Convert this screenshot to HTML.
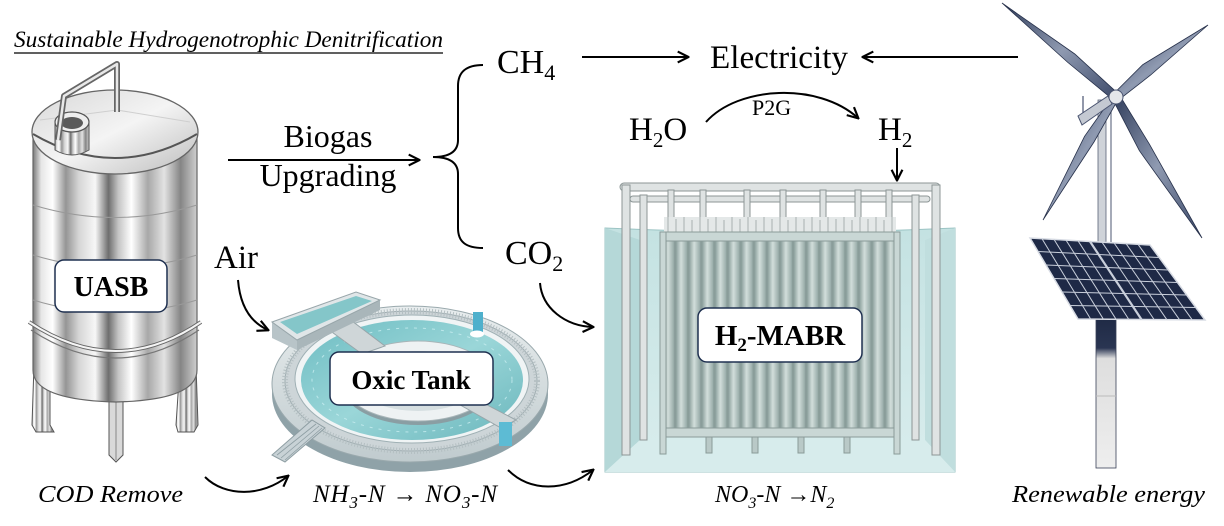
<!DOCTYPE html>
<html><head><meta charset="utf-8"><style>
html,body{margin:0;padding:0;background:#fff;}
svg{display:block;}
text{font-family:"Liberation Serif",serif;}
</style></head><body>
<svg width="1224" height="526" viewBox="0 0 1224 526" xmlns="http://www.w3.org/2000/svg">
<defs>
<marker id="ah" viewBox="0 0 12 12" refX="10.5" refY="6" markerWidth="13" markerHeight="13" orient="auto" markerUnits="userSpaceOnUse">
<path d="M1,1 L11,6 L1,11" fill="none" stroke="#000" stroke-width="2"/>
</marker>
<linearGradient id="metal" x1="0" y1="0" x2="1" y2="0">
<stop offset="0" stop-color="#7a7a7a"/><stop offset="0.05" stop-color="#e6e6e6"/><stop offset="0.12" stop-color="#ffffff"/>
<stop offset="0.2" stop-color="#959595"/><stop offset="0.28" stop-color="#d6d6d6"/><stop offset="0.38" stop-color="#f7f7f7"/>
<stop offset="0.46" stop-color="#6e6e6e"/><stop offset="0.52" stop-color="#c4c4c4"/><stop offset="0.6" stop-color="#ffffff"/>
<stop offset="0.7" stop-color="#a8a8a8"/><stop offset="0.8" stop-color="#e2e2e2"/><stop offset="0.9" stop-color="#858585"/>
<stop offset="1" stop-color="#cfcfcf"/>
</linearGradient>
<linearGradient id="lid" x1="0" y1="0" x2="1" y2="1">
<stop offset="0" stop-color="#d8d8d8"/><stop offset="0.5" stop-color="#f4f4f4"/><stop offset="1" stop-color="#bdbdbd"/>
</linearGradient>
<linearGradient id="blade" x1="0" y1="0" x2="1" y2="1">
<stop offset="0" stop-color="#2f3c5a"/><stop offset="0.5" stop-color="#8f9ab1"/><stop offset="1" stop-color="#3a4767"/>
</linearGradient>
<linearGradient id="pole" x1="0" y1="0" x2="0" y2="1">
<stop offset="0" stop-color="#1f2a45"/><stop offset="0.2" stop-color="#2a3552"/><stop offset="0.27" stop-color="#dedede"/><stop offset="1" stop-color="#eeeeee"/>
</linearGradient>
<linearGradient id="water" x1="0" y1="0" x2="0" y2="1">
<stop offset="0" stop-color="#c4e2e2"/><stop offset="1" stop-color="#d9eded"/>
</linearGradient>
<linearGradient id="fib" x1="0" y1="0" x2="1" y2="0">
<stop offset="0" stop-color="#8da19e"/><stop offset="0.45" stop-color="#d2dedb"/><stop offset="1" stop-color="#97aba8"/>
</linearGradient>
<pattern id="fibers" x="662" y="0" width="13.1" height="526" patternUnits="userSpaceOnUse">
<rect x="0" y="0" width="13.1" height="526" fill="#8a9d9a"/>
<rect x="1" y="0" width="11" height="526" fill="url(#fib)"/>
</pattern>
<linearGradient id="pool" x1="0" y1="0" x2="1" y2="1">
<stop offset="0" stop-color="#6dbcc2"/><stop offset="0.5" stop-color="#9ad6d8"/><stop offset="1" stop-color="#6ab6bc"/>
</linearGradient>
<linearGradient id="concrete" x1="0" y1="0" x2="0" y2="1">
<stop offset="0" stop-color="#e8edee"/><stop offset="1" stop-color="#c0cbce"/>
</linearGradient>
</defs>

<!-- Title -->
<text x="14" y="47" font-size="23" font-style="italic" textLength="429" lengthAdjust="spacingAndGlyphs">Sustainable Hydrogenotrophic Denitrification</text>
<line x1="14" y1="53" x2="443" y2="53" stroke="#000" stroke-width="1.2"/>

<!-- ===== UASB tank ===== -->
<g>
<path d="M34,365 L50,365 L50,425 L54,432 L36,432 L32,425 Z" fill="url(#metal)" stroke="#555" stroke-width="1"/>
<path d="M180,365 L196,365 L198,425 L194,432 L178,432 L176,425 Z" fill="url(#metal)" stroke="#555" stroke-width="1"/>
<path d="M45,375 L117,405 L188,375 Z" fill="#555"/>
<path d="M109,390 L123,390 L123,455 L116,462 L109,455 Z" fill="#d9d9d9" stroke="#555" stroke-width="1"/>
<line x1="116" y1="392" x2="116" y2="460" stroke="#888" stroke-width="1"/>
<path d="M33,135 L33,370 Q33,400 116,402 Q197,400 197,370 L197,135 Z" fill="url(#metal)" stroke="#666" stroke-width="1.2"/>
<path d="M33,205 Q115,230 197,205" fill="none" stroke="#999" stroke-width="1"/>
<path d="M33,255 Q115,280 197,255" fill="none" stroke="#999" stroke-width="1"/>
<path d="M33,300 Q115,325 197,300" fill="none" stroke="#999" stroke-width="1"/>
<path d="M29,322 Q116,380 201,322" fill="none" stroke="#666" stroke-width="4"/>
<path d="M29,322 Q116,380 201,322" fill="none" stroke="#f4f4f4" stroke-width="2"/>
<path d="M31,330 Q116,386 199,330" fill="none" stroke="#777" stroke-width="1.2"/>
<ellipse cx="115" cy="132" rx="83" ry="42" fill="url(#lid)" stroke="#666" stroke-width="1.3"/>
<path d="M33,134 Q115,182 197,134" fill="none" stroke="#555" stroke-width="2"/>
<path d="M40,120 L117,110 L190,122" fill="none" stroke="#cfcfcf" stroke-width="1"/>
<path d="M55,122 L55,150 Q72,160 89,150 L89,122 Z" fill="url(#metal)" stroke="#555" stroke-width="1"/>
<ellipse cx="72" cy="122" rx="17" ry="10" fill="#eee" stroke="#555" stroke-width="1.2"/>
<ellipse cx="72" cy="123" rx="11" ry="6" fill="#5a5a5a"/>
<path d="M117,112 L117,64 L64,96 L58,140" fill="none" stroke="#666" stroke-width="6" stroke-linejoin="round"/>
<path d="M117,112 L117,64 L64,96 L58,140" fill="none" stroke="#e8e8e8" stroke-width="2.5" stroke-linejoin="round"/>
<rect x="55" y="260" width="112" height="52" rx="9" fill="#fff" stroke="#1f3050" stroke-width="1.5"/>
<text x="111" y="296" font-size="28" font-weight="bold" text-anchor="middle">UASB</text>
</g>

<!-- Biogas upgrading -->
<text x="328" y="147" font-size="32" text-anchor="middle">Biogas</text>
<text x="328" y="186" font-size="32" text-anchor="middle">Upgrading</text>
<line x1="228" y1="160" x2="419" y2="160" stroke="#000" stroke-width="2" marker-end="url(#ah)"/>

<!-- brace -->
<path d="M483,65 C466,65 458,72 458,86 L458,140 C458,151 450,157 433,157 C450,157 458,163 458,174 L458,228 C458,242 466,248 483,248" fill="none" stroke="#000" stroke-width="2"/>

<!-- CH4, Electricity -->
<text x="497" y="73" font-size="34">CH<tspan font-size="22" dy="7">4</tspan></text>
<line x1="582" y1="57" x2="688" y2="57" stroke="#000" stroke-width="2" marker-end="url(#ah)"/>
<text x="710" y="68" font-size="33" textLength="138" lengthAdjust="spacingAndGlyphs">Electricity</text>
<line x1="1018" y1="57" x2="863" y2="57" stroke="#000" stroke-width="2" marker-end="url(#ah)"/>

<!-- H2O P2G H2 -->
<text x="629" y="140" font-size="33">H<tspan font-size="21" dy="7">2</tspan><tspan dy="-7">O</tspan></text>
<path d="M706,122 C738,86 818,82 858,118" fill="none" stroke="#000" stroke-width="2" marker-end="url(#ah)"/>
<text x="752" y="115" font-size="22">P2G</text>
<text x="878" y="140" font-size="33">H<tspan font-size="21" dy="7">2</tspan></text>
<line x1="897" y1="148" x2="897" y2="180" stroke="#000" stroke-width="2" marker-end="url(#ah)"/>

<!-- CO2 -->
<text x="505" y="264" font-size="34">CO<tspan font-size="22" dy="7">2</tspan></text>
<path d="M540,283 C542,308 565,326 593,327" fill="none" stroke="#000" stroke-width="2" marker-end="url(#ah)"/>

<!-- Air -->
<text x="214" y="268" font-size="33">Air</text>
<path d="M238,280 C240,305 250,322 268,330" fill="none" stroke="#000" stroke-width="2" marker-end="url(#ah)"/>

<!-- ===== Oxic tank ===== -->
<g>
<ellipse cx="410" cy="394" rx="138" ry="78" fill="#8fa2a8"/>
<ellipse cx="410" cy="384" rx="138" ry="78" fill="url(#concrete)" stroke="#9aa9ad" stroke-width="1"/>
<ellipse cx="411" cy="381" rx="126" ry="70" fill="#cdd5d8" stroke="#a0aeb2" stroke-width="1"/>
<ellipse cx="411" cy="381" rx="126" ry="70" fill="none" stroke="#b4bfc2" stroke-width="6" stroke-dasharray="1 2"/>
<ellipse cx="412" cy="379" rx="117" ry="64" fill="#f0f4f5" stroke="#9fb0b4" stroke-width="1"/>
<ellipse cx="412" cy="380" rx="111" ry="60" fill="url(#pool)"/>
<ellipse cx="412" cy="380" rx="100" ry="52" fill="none" stroke="#c8eef0" stroke-width="1" stroke-dasharray="3 6" opacity="0.8"/>
<ellipse cx="418" cy="385" rx="76" ry="40" fill="#8a9ea3"/>
<ellipse cx="418" cy="381" rx="76" ry="40" fill="#eef2f3" stroke="#a8b5b8" stroke-width="1"/>
<ellipse cx="418" cy="381" rx="62" ry="30" fill="#d6dfe1"/>
<!-- bridges -->
<polygon points="325,327 348,318 385,346 362,354" fill="#cfd6d8" stroke="#98a6aa" stroke-width="1"/>
<polygon points="455,402 470,396 516,420 501,428" fill="#cfd6d8" stroke="#98a6aa" stroke-width="1"/>
<!-- channel -->
<polygon points="272,322 272,338 297,350 297,340" fill="#b8c4c8"/>
<polygon points="297,340 297,350 380,310 380,300" fill="#a9b6ba"/>
<polygon points="272,322 356,292 380,300 297,340" fill="#e0e6e8" stroke="#98a6aa" stroke-width="1"/>
<polygon points="280,322 356,296 372,301 297,334" fill="#84c6c9"/>
<!-- blue pipes -->
<rect x="473" y="312" width="10" height="20" fill="#4fb0cc"/>
<ellipse cx="477" cy="334" rx="7" ry="3.5" fill="#fff"/>
<rect x="499" y="422" width="13" height="24" fill="#5dbbd4"/>
<!-- stairs -->
<polygon points="272,455 285,462 325,428 312,420" fill="#c8d2d6" stroke="#8e9ea3" stroke-width="1"/>
<path d="M277,455 L316,424 M281,458 L319,426 M285,460 L322,428" stroke="#8e9ea3" stroke-width="0.8"/>
<!-- label -->
<rect x="330" y="352" width="163" height="53" rx="9" fill="#fff" stroke="#1f3050" stroke-width="1.5"/>
<text x="411" y="389" font-size="27" font-weight="bold" text-anchor="middle">Oxic Tank</text>
</g>

<!-- bottom labels & arrows -->
<text x="38" y="502" font-size="24" font-style="italic" textLength="145" lengthAdjust="spacingAndGlyphs">COD Remove</text>
<path d="M205,477 C225,497 262,497 288,476" fill="none" stroke="#000" stroke-width="2" marker-end="url(#ah)"/>
<text x="313" y="502" font-size="25" font-style="italic" textLength="184" lengthAdjust="spacing">NH<tspan font-size="17" dy="6">3</tspan><tspan dy="-6">-N → NO</tspan><tspan font-size="17" dy="6">3</tspan><tspan dy="-6">-N</tspan></text>
<path d="M508,470 C530,492 565,492 593,470" fill="none" stroke="#000" stroke-width="2" marker-end="url(#ah)"/>
<text x="715" y="502" font-size="24" font-style="italic">NO<tspan font-size="16" dy="6">3</tspan><tspan dy="-6">-N →N</tspan><tspan font-size="16" dy="6">2</tspan></text>
<text x="1012" y="502" font-size="24" font-style="italic" textLength="193" lengthAdjust="spacingAndGlyphs">Renewable energy</text>

<!-- ===== H2-MABR ===== -->
<g>
<path d="M605,228 Q780,236 955,228 L955,472 L605,472 Z" fill="url(#water)" stroke="#9cc4c4" stroke-width="1"/>
<polygon points="605,228 640,240 640,440 605,472" fill="#b5d8d8"/>
<polygon points="955,228 925,240 925,440 955,472" fill="#c0dede"/>
<polygon points="605,472 640,440 925,440 955,472" fill="#d7ecec"/>
<g fill="#dfe3e3" stroke="#8c9696" stroke-width="1">
<rect x="620" y="183" width="320" height="8" rx="4"/>
<rect x="630" y="196" width="300" height="6" rx="3"/>
<rect x="622" y="185" width="8" height="270"/>
<rect x="640" y="195" width="7" height="245"/>
<rect x="932" y="185" width="8" height="270"/>
<rect x="912" y="195" width="7" height="245"/>
<rect x="668" y="190" width="6" height="45"/>
<rect x="700" y="190" width="6" height="45"/>
<rect x="744" y="190" width="6" height="45"/>
<rect x="780" y="190" width="6" height="45"/>
<rect x="820" y="190" width="6" height="45"/>
<rect x="855" y="190" width="6" height="45"/>
<rect x="886" y="190" width="6" height="45"/>
</g>
<rect x="664" y="217" width="232" height="16" fill="#e4e8e8"/>
<path d="M668,217 V233 M676,219 V233 M684,217 V233 M692,220 V233 M700,217 V233 M708,219 V233 M716,217 V233 M724,220 V233 M732,217 V233 M740,219 V233 M748,217 V233 M756,220 V233 M764,217 V233 M772,219 V233 M780,217 V233 M788,220 V233 M796,217 V233 M804,219 V233 M812,217 V233 M820,220 V233 M828,217 V233 M836,219 V233 M844,217 V233 M852,220 V233 M860,217 V233 M868,219 V233 M876,217 V233 M884,220 V233 M892,217 V233" stroke="#a8b0b0" stroke-width="1"/>
<rect x="662" y="240" width="236" height="190" fill="url(#fibers)"/>
<rect x="660" y="232" width="240" height="9" fill="#c9d7d5" stroke="#8a9b99" stroke-width="1"/>
<rect x="660" y="428" width="240" height="9" fill="#c9d7d5" stroke="#8a9b99" stroke-width="1"/>
<rect x="660" y="232" width="6" height="222" fill="#c9d7d5" stroke="#8a9b99" stroke-width="1"/>
<rect x="894" y="232" width="6" height="222" fill="#c9d7d5" stroke="#8a9b99" stroke-width="1"/>
<g fill="#b9c9c7" stroke="#8a9b99" stroke-width="1">
<rect x="706" y="437" width="6" height="16"/><rect x="752" y="437" width="6" height="16"/>
<rect x="798" y="437" width="6" height="16"/><rect x="844" y="437" width="6" height="16"/>
</g>
<rect x="698" y="308" width="164" height="54" rx="9" fill="#fff" stroke="#1f3050" stroke-width="1.5"/>
<text x="780" y="345" font-size="29" font-weight="bold" text-anchor="middle">H<tspan font-size="19" dy="6">2</tspan><tspan dy="-6">-MABR</tspan></text>
</g>

<!-- ===== Wind turbine & solar ===== -->
<g>
<rect x="1098" y="100" width="8" height="142" fill="#cfd3d9" stroke="#5a6378" stroke-width="0.8"/>
<line x1="1111" y1="104" x2="1111" y2="242" stroke="#6a7388" stroke-width="1.2"/>
<polygon points="1118.5,93.9 1074.8,54 1002,3 1067.9,62.5 1113.5,100.1" fill="url(#blade)" stroke="#26304a" stroke-width="0.8"/>
<polygon points="1113.5,93.9 1142.7,64.7 1208,25 1150.7,75 1118.5,100.1" fill="url(#blade)" stroke="#26304a" stroke-width="0.8"/>
<polygon points="1112.6,99.1 1139.3,150.6 1202,238 1149.5,144.3 1119.4,94.9" fill="url(#blade)" stroke="#26304a" stroke-width="0.8"/>
<polygon points="1118.6,98.5 1094,142 1043,220 1084.5,136.4 1113.4,95.5" fill="url(#blade)" stroke="#26304a" stroke-width="0.8"/>
<polygon points="1078,116 1108,96 1112,104 1082,125" fill="#c4c9d2" stroke="#4a5470" stroke-width="1"/>
<line x1="1083" y1="113" x2="1083" y2="96" stroke="#4a5470" stroke-width="1.2"/>
<circle cx="1116" cy="97" r="7" fill="#e4e6ea" stroke="#4a5470" stroke-width="1"/>
<!-- lower pole -->
<rect x="1096" y="318" width="20" height="150" fill="url(#pole)" stroke="#3a4258" stroke-width="0.8"/>
<line x1="1096" y1="396" x2="1116" y2="396" stroke="#bbb" stroke-width="1"/>
<!-- solar panel -->
<polygon points="1030,238 1150,245 1205,320 1078,319" fill="#1e2946" stroke="#d8dce4" stroke-width="1.5"/>
<g stroke="#c9cfdb" stroke-width="1">
<line x1="1042" y1="238.7" x2="1090.7" y2="319.1"/>
<line x1="1054" y1="239.4" x2="1103.4" y2="319.2"/>
<line x1="1066" y1="240.1" x2="1116.1" y2="319.3"/>
<line x1="1078" y1="240.8" x2="1128.8" y2="319.4"/>
<line x1="1090" y1="241.5" x2="1141.5" y2="319.5" stroke-width="2.2"/>
<line x1="1102" y1="242.2" x2="1154.2" y2="319.6"/>
<line x1="1114" y1="242.9" x2="1166.9" y2="319.7"/>
<line x1="1126" y1="243.6" x2="1179.6" y2="319.8"/>
<line x1="1138" y1="244.3" x2="1192.3" y2="319.9"/>
<line x1="1038" y1="251.5" x2="1159.2" y2="257.5"/>
<line x1="1046" y1="265" x2="1168.3" y2="270"/>
<line x1="1054" y1="278.5" x2="1177.5" y2="282.5"/>
<line x1="1062" y1="292" x2="1186.7" y2="295"/>
<line x1="1070" y1="305.5" x2="1195.8" y2="307.5"/>
</g>
</g>
</svg>
</body></html>
